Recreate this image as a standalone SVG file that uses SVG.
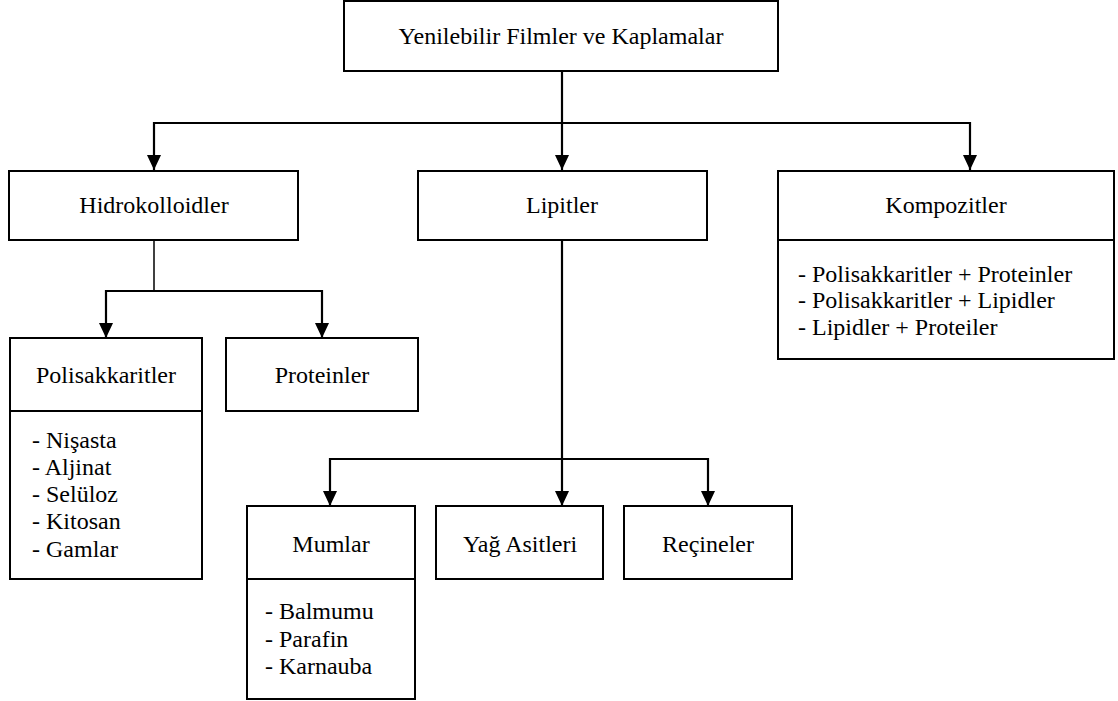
<svg xmlns="http://www.w3.org/2000/svg" width="1118" height="701" viewBox="0 0 1118 701">
<defs>
<style>
.box{fill:#fff;stroke:#000;stroke-width:2}
.sep{stroke:#000;stroke-width:2}
.lbl{font-family:"Liberation Serif","Times New Roman",serif;font-size:24px;fill:#000}
.mid{text-anchor:middle}
.con{fill:none;stroke:#000;stroke-width:2.2}
.thin{fill:none;stroke:#000;stroke-width:1.5}
</style>
<marker id="ah" viewBox="0 0 15 14" refX="15" refY="7" markerWidth="15" markerHeight="14" markerUnits="userSpaceOnUse" orient="auto">
<path d="M0,0 L15,7 L0,14 z" fill="#000"/>
</marker>
</defs>
<rect width="1118" height="701" fill="#fff"/>
<g id="connectors">
<path class="con" d="M562,71 V170" marker-end="url(#ah)"/>
<path class="con" d="M562,123 H154 V170" marker-end="url(#ah)"/>
<path class="con" d="M562,123 H970 V170" marker-end="url(#ah)"/>
<path class="thin" d="M154,240 V291"/>
<path class="con" d="M154,291 H106 V338" marker-end="url(#ah)"/>
<path class="con" d="M154,291 H322 V338" marker-end="url(#ah)"/>
<path class="con" d="M562,240 V506" marker-end="url(#ah)"/>
<path class="con" d="M562,459 H330 V506" marker-end="url(#ah)"/>
<path class="con" d="M562,459 H708 V506" marker-end="url(#ah)"/>
</g>
<g id="root">
<rect class="box" x="344" y="1" width="434" height="70"/>
<text class="lbl mid" x="561" y="44">Yenilebilir Filmler ve Kaplamalar</text>
</g>
<g id="hidrokolloidler">
<rect class="box" x="9" y="171" width="289" height="69"/>
<text class="lbl mid" x="154" y="213">Hidrokolloidler</text>
</g>
<g id="lipitler">
<rect class="box" x="418" y="171" width="289" height="69"/>
<text class="lbl mid" x="562" y="213">Lipitler</text>
</g>
<g id="kompozitler">
<rect class="box" x="778" y="171" width="336" height="188"/>
<line class="sep" x1="778" y1="240" x2="1114" y2="240"/>
<text class="lbl mid" x="946" y="213">Kompozitler</text>
<text class="lbl" x="798" y="282">- Polisakkaritler + Proteinler</text>
<text class="lbl" x="798" y="308">- Polisakkaritler + Lipidler</text>
<text class="lbl" x="798" y="335">- Lipidler + Proteiler</text>
</g>
<g id="polisakkaritler">
<rect class="box" x="10" y="338" width="192" height="241"/>
<line class="sep" x1="10" y1="411" x2="202" y2="411"/>
<text class="lbl mid" x="106" y="383">Polisakkaritler</text>
<text class="lbl" x="32" y="448">- Nişasta</text>
<text class="lbl" x="32" y="475">- Aljinat</text>
<text class="lbl" x="32" y="502">- Selüloz</text>
<text class="lbl" x="32" y="529">- Kitosan</text>
<text class="lbl" x="32" y="557">- Gamlar</text>
</g>
<g id="proteinler">
<rect class="box" x="226" y="338" width="192" height="73"/>
<text class="lbl mid" x="322" y="383">Proteinler</text>
</g>
<g id="mumlar">
<rect class="box" x="247" y="506" width="168" height="193"/>
<line class="sep" x1="247" y1="579" x2="415" y2="579"/>
<text class="lbl mid" x="331" y="552">Mumlar</text>
<text class="lbl" x="265" y="619">- Balmumu</text>
<text class="lbl" x="265" y="647">- Parafin</text>
<text class="lbl" x="265" y="674">- Karnauba</text>
</g>
<g id="yag-asitleri">
<rect class="box" x="436" y="506" width="167" height="73"/>
<text class="lbl mid" x="520" y="552">Yağ Asitleri</text>
</g>
<g id="recineler">
<rect class="box" x="624" y="506" width="168" height="73"/>
<text class="lbl mid" x="708" y="552">Reçineler</text>
</g>
</svg>
